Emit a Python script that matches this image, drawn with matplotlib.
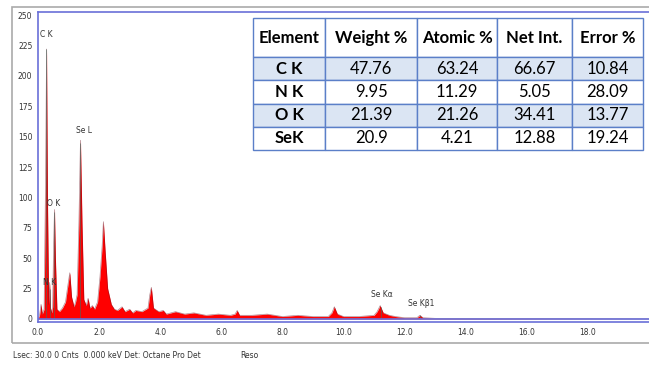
import matplotlib.pyplot as plt
from matplotlib.patches import Rectangle

# spectrum (keV, counts)
energy = [0.00, 0.05, 0.10, 0.14, 0.20, 0.25, 0.28, 0.31, 0.35, 0.38, 0.41, 0.45,
          0.48, 0.51, 0.54, 0.57, 0.62, 0.70, 0.80, 0.90, 0.98, 1.04, 1.10, 1.18,
          1.23, 1.28, 1.34, 1.39, 1.44, 1.50, 1.58, 1.64, 1.70, 1.78, 1.85, 1.95,
          2.03, 2.10, 2.14, 2.20, 2.28, 2.40, 2.50, 2.60, 2.75, 2.85, 3.00, 3.10,
          3.20, 3.40, 3.60, 3.66, 3.71, 3.78, 3.95, 4.10, 4.20, 4.50, 4.80, 5.10,
          5.50, 5.90, 6.30, 6.45, 6.52, 6.60, 7.00, 7.50, 8.00, 8.50, 9.00, 9.50,
          9.62, 9.70, 9.80, 10.00, 10.50, 11.00, 11.10, 11.20, 11.30, 11.50, 11.70,
          12.00, 12.40, 12.50, 12.60, 13.00, 20.00]
counts = [0, 3, 12, 4, 8, 120, 222, 100, 12, 30, 9, 5,
          10, 60, 90, 50, 8, 6, 9, 14, 28, 38, 18, 10,
          14, 20, 80, 147, 80, 16, 11, 17, 9, 11, 8, 14,
          35, 60, 80, 55, 25, 12, 8, 7, 10, 6, 8, 5,
          7, 6, 9, 20, 26, 9, 6, 7, 4, 6, 4, 5,
          3, 4, 3, 4, 7, 3, 3, 4, 2, 3, 2, 2,
          5, 10, 4, 2, 2, 3, 6, 11, 5, 3, 2,
          1, 1, 3, 1, 0.5, 0]

# element markers
labels = ['C K', 'N K', 'O K', 'Se L', 'Se K\u03b1', 'Se K\u03b21']
label_x = [0.07, 0.16, 0.30, 1.24, 10.9, 12.1]
label_y = [234, 30, 95, 155, 20, 13]
line_x = [0.277, 0.39, 0.525, 1.38, 11.22, 12.5]
line_top = [222, 25, 88, 145, 10, 3]

# quantification table
columns = ['Element', 'Weight %', 'Atomic %', 'Net Int.', 'Error %']
elements = ['C K', 'N K', 'O K', 'SeK']
weight = ['47.76', '9.95', '21.39', '20.9']
atomic = ['63.24', '11.29', '21.26', '4.21']
net_int = ['66.67', '5.05', '34.41', '12.88']
error = ['10.84', '28.09', '13.77', '19.24']

fig = plt.figure(figsize=(6.49, 3.65), dpi=100)
ax = fig.add_axes([38/649, 1 - 322/365, 611/649, 310/365])

ax.fill_between(energy, counts, color='#ff0000', lw=0)
ax.plot(energy, counts, color='#6a1020', lw=0.5, alpha=0.5)
ax.vlines(line_x, 0, line_top, colors='#4a6a60', lw=0.7, alpha=0.6)
ax.axhline(0, color='#6a70d8', lw=1.2)

for t, x, y in zip(labels, label_x, label_y):
    ax.text(x, y, t, fontsize=5.5, color='#333333', va='center', ha='left')

ax.set_xlim(0, 20)
ax.set_ylim(-2.5, 252.5)
ax.set_xticks([0, 2, 4, 6, 8, 10, 12, 14, 16, 18])
ax.set_xticklabels(['0.0', '2.0', '4.0', '6.0', '8.0', '10.0', '12.0', '14.0', '16.0', '18.0'])
ax.set_yticks(range(0, 251, 25))
ax.tick_params(length=0, labelsize=5.5, labelcolor='#333333', pad=4)
ax.spines['right'].set_visible(False)
for s in ['left', 'top', 'bottom']:
    ax.spines[s].set_color('#6a70d8')
    ax.spines[s].set_linewidth(1.2)

# table
cells = [[e, w, a, n, r] for e, w, a, n, r in zip(elements, weight, atomic, net_int, error)]
cw = [72, 91, 80, 74, 71]
tab = ax.table(cellText=cells, colLabels=columns, colWidths=[c/388 for c in cw],
               cellLoc='center', bbox=[215/611, (322-150)/310, 390/611, 132/310])
tab.auto_set_font_size(False)
for (r, c), cell in tab.get_celld().items():
    cell.set_edgecolor('#5b7fc8')
    cell.set_linewidth(1.0)
    cell.set_height(39 if r == 0 else 23.25)
    cell.get_text().set_fontfamily('Lato')
    cell.get_text().set_fontsize(12)
    if r == 0 or c == 0:
        cell.get_text().set_fontweight('bold')
    if r in (1, 3):
        cell.set_facecolor('#dbe5f3')
    else:
        cell.set_facecolor('white')

# outer frame and footer
fig.patches.append(Rectangle((12/649, 1 - 343/365), 1, 336/365, transform=fig.transFigure,
                             fill=False, edgecolor='#aaaaaa', lw=1.2))
fig.text(13/649, 1 - 355/365, 'Lsec: 30.0 0 Cnts  0.000 keV Det: Octane Pro Det',
         fontsize=5.5, color='#333333', va='center')
fig.text(240/649, 1 - 355/365, 'Reso', fontsize=5.5, color='#333333', va='center')

fig.savefig('out.png', dpi=100)
